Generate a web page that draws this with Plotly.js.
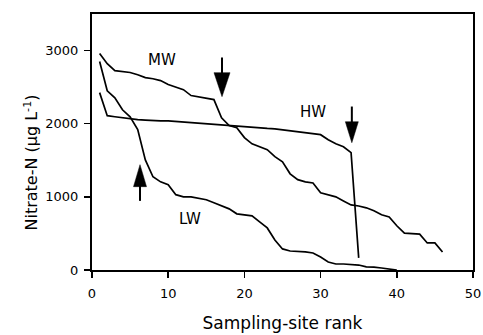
<!DOCTYPE html>
<html>
<head>
<meta charset="utf-8">
<script src="https://cdn.plot.ly/plotly-3.0.1.min.js"></script>
<style>
html,body{margin:0;padding:0;background:#fff;}
#chart{width:483px;height:335px;}
</style>
</head>
<body>
<div id="chart"></div>
<script>
// Sampling-site ranks and nitrate-N values (µg L-1)
const mwRank = [];
for (let i = 1; i <= 46; i++) mwRank.push(i);
const mwValues = [2960, 2820, 2725, 2710, 2700, 2670, 2630, 2615, 2590, 2535,
                  2495, 2465, 2385, 2370, 2355, 2330, 2080, 1975, 1945, 1810,
                  1725, 1685, 1645, 1550, 1480, 1315, 1235, 1205, 1190, 1055,
                  1025, 1000, 945, 890, 875, 850, 810, 755, 725, 605,
                  505, 495, 490, 370, 370, 245];

const hwRank = [];
for (let i = 1; i <= 35; i++) hwRank.push(i);
const hwValues = [2425, 2110, 2095, 2080, 2068, 2055, 2050, 2042, 2040, 2038,
                  2030, 2020, 2010, 2000, 1995, 1986, 1975, 1965, 1958, 1950,
                  1945, 1940, 1935, 1930, 1918, 1905, 1892, 1880, 1865, 1850,
                  1780, 1725, 1685, 1605, 165];

const lwRank = [];
for (let i = 1; i <= 40; i++) lwRank.push(i);
const lwValues = [2850, 2450, 2355, 2190, 2095, 1920, 1505, 1275, 1205, 1165,
                  1030, 1000, 1000, 975, 960, 920, 878, 836, 768, 752,
                  740, 658, 575, 410, 288, 260, 258, 247, 233, 178,
                  110, 82, 82, 80, 68, 42, 40, 27, 14, 0];

// Labels
const labelText = ["MW", "HW", "LW"];
const labelX = [9.2, 29.0, 12.8];
const labelY = [2865, 2160, 700];

// Arrows: x position, tail value, tip value, head length/width (px)
const arrowX = [17.06, 34.1, 6.3];
const arrowTail = [2905, 2235, 945];
const arrowTip = [2370, 1740, 1440];
const arrowHeadLen = [24, 21, 22];
const arrowHeadWid = [16, 13, 13];

const xTitle = 'Sampling-site rank';
const yTitle = 'Nitrate-N (µg L<sup>-1</sup>)';

const lineStyle = {color: '#000', width: 1.7};
const traces = [
  {x: mwRank, y: mwValues, mode: 'lines', line: lineStyle, name: 'MW', hoverinfo: 'skip'},
  {x: hwRank, y: hwValues, mode: 'lines', line: lineStyle, name: 'HW', hoverinfo: 'skip'},
  {x: lwRank, y: lwValues, mode: 'lines', line: lineStyle, name: 'LW', hoverinfo: 'skip'}
];

const shapes = [];
for (let i = 0; i < arrowX.length; i++) {
  const down = arrowTail[i] > arrowTip[i];
  shapes.push({
    type: 'line', xref: 'x', yref: 'y',
    x0: arrowX[i], x1: arrowX[i], y0: arrowTail[i],
    y1: arrowTip[i] + (down ? 1 : -1) * (arrowHeadLen[i] * 0.5) / 0.073,
    line: {color: '#000', width: 2}
  });
  const h = arrowHeadLen[i] * (down ? 1 : -1);
  const w = arrowHeadWid[i] / 2;
  shapes.push({
    type: 'path', xref: 'x', yref: 'y',
    xsizemode: 'pixel', ysizemode: 'pixel',
    xanchor: arrowX[i], yanchor: arrowTip[i],
    path: `M0,0 L${-w},${h} L${w},${h} Z`,
    fillcolor: '#000', line: {color: '#000', width: 0.5}
  });
}

const fam = 'DejaVu Sans, Arial, sans-serif';
const annotations = labelText.map((t, i) => ({
  x: labelX[i], y: labelY[i], xref: 'x', yref: 'y', text: t,
  showarrow: false, font: {family: fam, size: 15, color: '#000'}
}));
annotations.push({
  x: -61 / 381, y: 0.42, xref: 'paper', yref: 'paper',
  xanchor: 'center', yanchor: 'middle', textangle: -90,
  text: yTitle, showarrow: false,
  font: {family: fam, size: 16, color: '#000'}
});

const layout = {
  width: 483, height: 335,
  margin: {l: 92, r: 10, t: 14, b: 65},
  paper_bgcolor: '#fff', plot_bgcolor: '#fff',
  showlegend: false,
  font: {family: fam, color: '#000'},
  xaxis: {
    range: [0, 50], tickvals: [0, 10, 20, 30, 40, 50],
    ticks: 'outside', ticklen: 6, tickwidth: 1.5, tickcolor: '#000',
    showline: true, linecolor: '#000', linewidth: 2, mirror: true,
    showgrid: false, zeroline: false, ticklabelstandoff: 4,
    tickfont: {family: fam, size: 13, color: '#000'},
    title: {text: xTitle, font: {family: fam, size: 17, color: '#000'}, standoff: 18}
  },
  yaxis: {
    range: [0, 3500], tickvals: [0, 1000, 2000, 3000],
    ticks: 'outside', ticklen: 6, tickwidth: 1.5, tickcolor: '#000',
    showline: true, linecolor: '#000', linewidth: 2, mirror: true,
    showgrid: false, zeroline: false, ticklabelstandoff: 3,
    tickfont: {family: fam, size: 13, color: '#000'}
  },
  shapes: shapes,
  annotations: annotations
};

Plotly.newPlot('chart', traces, layout, {staticPlot: true, displayModeBar: false});
</script>
</body>
</html>
